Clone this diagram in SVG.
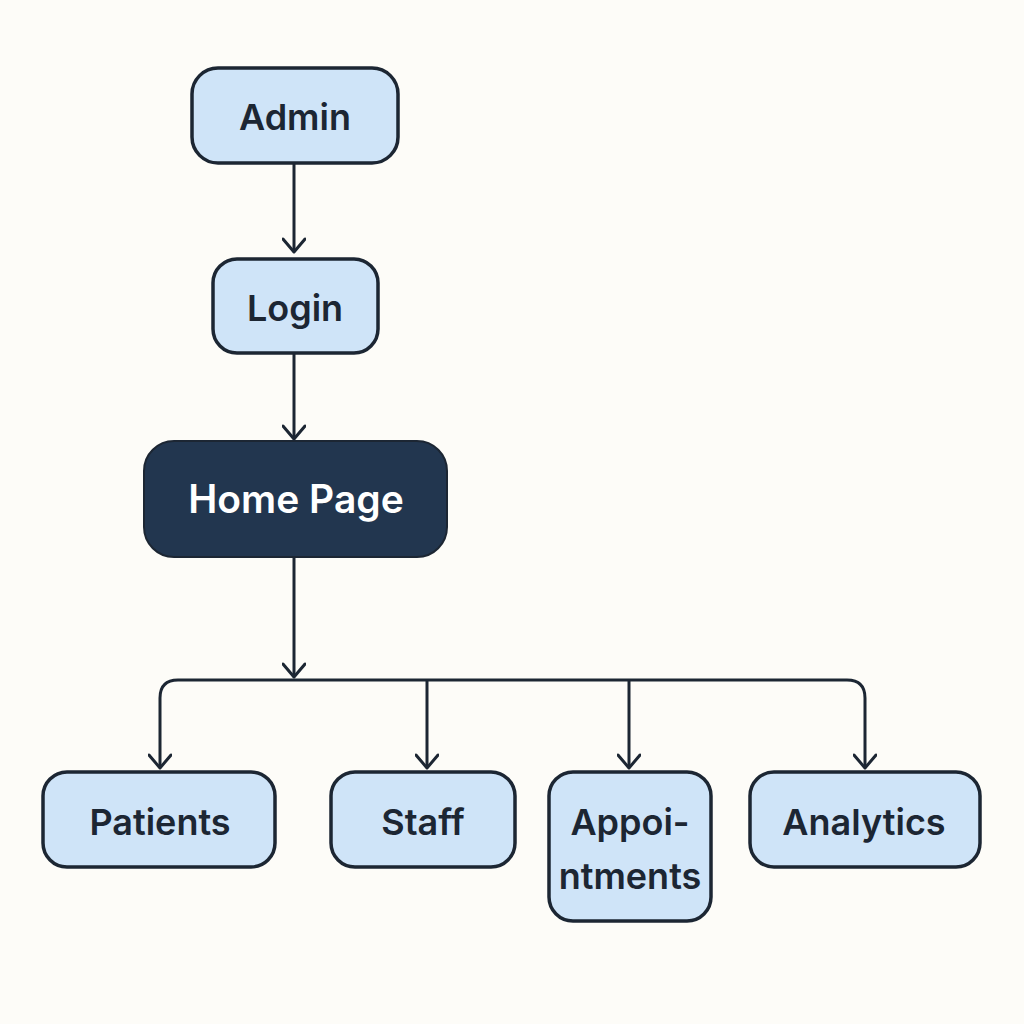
<svg xmlns="http://www.w3.org/2000/svg" width="1024" height="1024" viewBox="0 0 1024 1024">
<defs>
<marker id="arr" viewBox="0 0 24 24" refX="21" refY="12" markerWidth="24" markerHeight="24" markerUnits="userSpaceOnUse" orient="auto">
<path d="M8,1 L21,12 L8,23" fill="none" stroke="#1c2633" stroke-width="3" stroke-linecap="round" stroke-linejoin="round"/>
</marker>
<style>
.node{fill:#cfe4f8;stroke:#1c2633;stroke-width:3.5}
.dark{fill:#22364f;stroke:#1c2633;stroke-width:2}
.lbl{font-family:"Inter","Liberation Sans",sans-serif;font-weight:600;font-size:36px;fill:#1c2633;text-anchor:middle}
.wl{font-family:"Inter","Liberation Sans",sans-serif;font-weight:600;font-size:39px;fill:#ffffff;text-anchor:middle}
.c{fill:none;stroke:#1c2633;stroke-width:3}
</style>
</defs>
<rect width="1024" height="1024" fill="#fdfcf8"/>
<g id="connectors">
<line class="c" x1="294" y1="164" x2="294" y2="252" marker-end="url(#arr)"/>
<line class="c" x1="294" y1="354" x2="294" y2="439" marker-end="url(#arr)"/>
<line class="c" x1="294" y1="558" x2="294" y2="677" marker-end="url(#arr)"/>
<path class="c" d="M294,680 L178,680 Q160,680 160,698 L160,768" marker-end="url(#arr)"/>
<path class="c" d="M294,680 L847,680 Q865,680 865,698 L865,768" marker-end="url(#arr)"/>
<line class="c" x1="427" y1="680" x2="427" y2="768" marker-end="url(#arr)"/>
<line class="c" x1="629" y1="680" x2="629" y2="768" marker-end="url(#arr)"/>
</g>
<g id="admin">
<rect class="node" x="192" y="68" width="206" height="95" rx="26"/>
<text class="lbl" x="295" y="130">Admin</text>
</g>
<g id="login">
<rect class="node" x="213" y="259" width="165" height="94" rx="24"/>
<text class="lbl" x="295" y="321">Login</text>
</g>
<g id="home">
<rect class="dark" x="144" y="441" width="303" height="116" rx="30"/>
<text class="wl" x="296" y="513">Home Page</text>
</g>
<g id="patients">
<rect class="node" x="43" y="772" width="232" height="95" rx="24"/>
<text class="lbl" x="160" y="835">Patients</text>
</g>
<g id="staff">
<rect class="node" x="331" y="772" width="184" height="95" rx="24"/>
<text class="lbl" x="423" y="835">Staff</text>
</g>
<g id="appointments">
<rect class="node" x="549" y="772" width="162" height="149" rx="24"/>
<text class="lbl" x="630" y="835">Appoi-</text>
<text class="lbl" x="630" y="889">ntments</text>
</g>
<g id="analytics">
<rect class="node" x="750" y="772" width="230" height="95" rx="24"/>
<text class="lbl" x="864" y="835">Analytics</text>
</g>
</svg>
